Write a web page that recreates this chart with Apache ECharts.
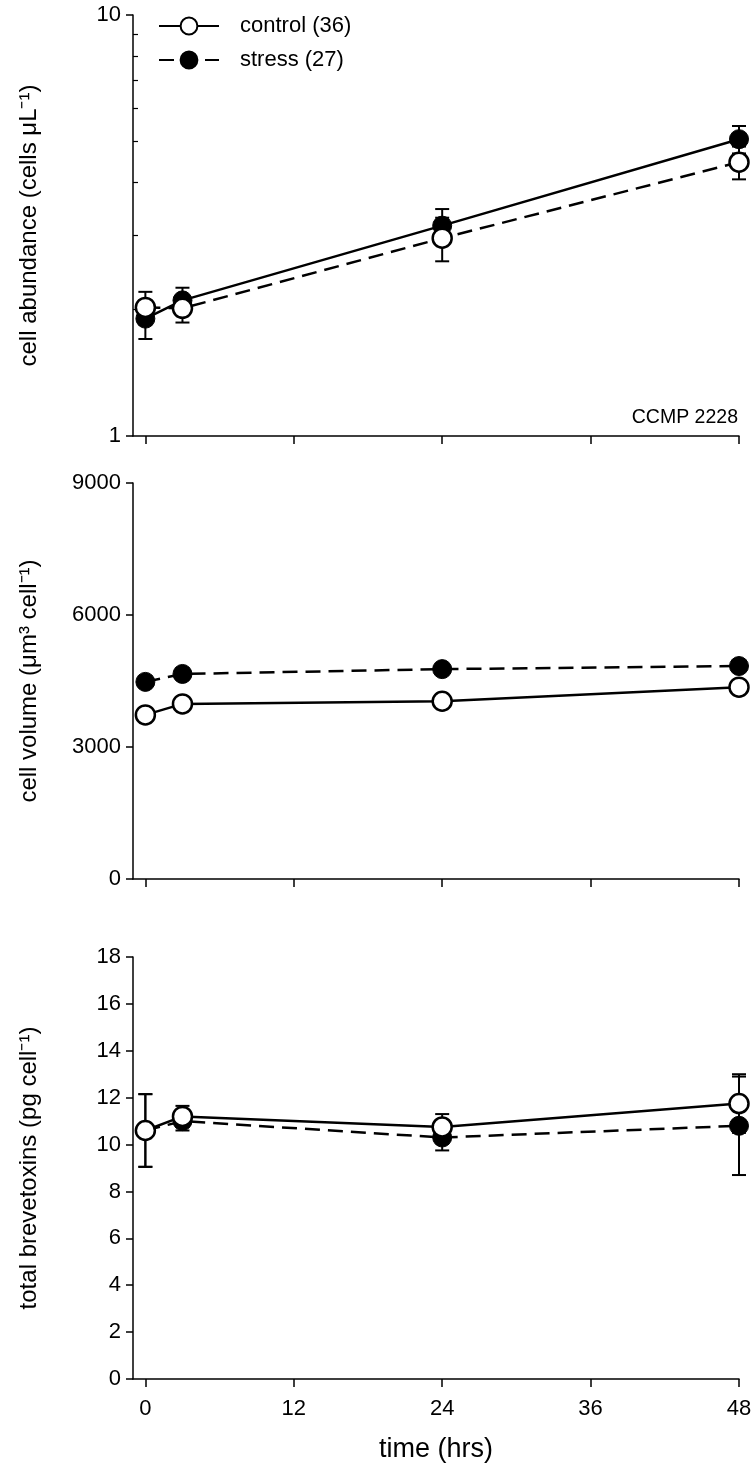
<!DOCTYPE html>
<html>
<head>
<meta charset="utf-8">
<script src="https://cdn.jsdelivr.net/npm/echarts@6/dist/echarts.min.js"></script>
<style>
html,body{margin:0;padding:0;background:#fff;}
#c{width:756px;height:1475px;}
</style>
</head>
<body>
<div id="c"></div>
<script>
// ---- data ----
const time = [0, 3, 24, 48];
const xTicks = [0, 12, 24, 36, 48];
const legendNames = ['control (36)', 'stress (27)'];

// panel 1: cell abundance (cells uL-1), log axis
const abundControl = [2.02, 2.01, 2.95, 4.47];
const abundControlErr = [0.18, 0.15, 0.35, 0.40];
const abundStress = [1.90, 2.10, 3.16, 5.07];
const abundStressErr = [0.20, 0.15, 0.30, 0.38];
const abundMinorTicks = [2, 3, 4, 5, 6, 7, 8, 9];

// panel 2: cell volume (um3 cell-1)
const volControl = [3730, 3980, 4040, 4360];
const volStress = [4480, 4660, 4770, 4840];

// panel 3: total brevetoxins (pg cell-1)
const toxControl = [10.6, 11.2, 10.75, 11.75];
const toxControlErr = [1.55, 0.45, 0.55, 1.25];
const toxStress = [10.6, 11.0, 10.3, 10.8];
const toxStressErr = [1.55, 0.4, 0.55, 2.1];

const strainLabel = 'CCMP 2228';
const xTitle = 'time (hrs)';
const yTitles = ['cell abundance (cells \u03bcL\u207b\u00b9)', 'cell volume (\u03bcm\u00b3 cell\u207b\u00b9)', 'total brevetoxins (pg cell\u207b\u00b9)'];

// ---- build ----
const FONT = '"Liberation Sans", Arial, sans-serif';
const pts = (ys) => time.map((t, i) => [t, ys[i]]);
const errPts = (ys, es) => time.map((t, i) => [t, ys[i] - es[i], ys[i] + es[i]]);

function errRender(params, api) {
  const x = api.value(0), lo = api.value(1), hi = api.value(2);
  const a = api.coord([x, hi]), b = api.coord([x, lo]);
  const w = 7;
  const st = { stroke: '#000', lineWidth: 2 };
  return { type: 'group', children: [
    { type: 'line', shape: { x1: a[0], y1: a[1], x2: b[0], y2: b[1] }, style: st },
    { type: 'line', shape: { x1: a[0] - w, y1: a[1], x2: a[0] + w, y2: a[1] }, style: st },
    { type: 'line', shape: { x1: b[0] - w, y1: b[1], x2: b[0] + w, y2: b[1] }, style: st }
  ]};
}

const grids = [
  { left: 133, width: 606, top: 15, height: 421 },
  { left: 133, width: 606, top: 483, height: 396 },
  { left: 133, width: 606, top: 957, height: 422 }
];

const axisLine = { show: true, onZero: false, lineStyle: { color: '#000', width: 1.5 } };
const labelStyle = { color: '#000', fontSize: 22, fontFamily: FONT };
const plain = (v) => String(v);

const xAxes = grids.map((g, i) => ({
  type: 'value', gridIndex: i, min: -1, max: 48,
  axisLine: axisLine,
  axisTick: { show: true, inside: false, length: 8, lineStyle: { color: '#000', width: 1.5 }, customValues: xTicks },
  axisLabel: Object.assign({ show: i === 2, margin: 19, customValues: xTicks, formatter: plain }, labelStyle),
  splitLine: { show: false },
  name: i === 2 ? xTitle : '',
  nameLocation: 'middle', nameGap: 57,
  nameTextStyle: { color: '#000', fontSize: 27, fontFamily: FONT }
}));

const nameStyle = { color: '#000', fontSize: 24, fontFamily: FONT };
const yAxes = [
  { type: 'log', logBase: 10, gridIndex: 0, min: 1, max: 10,
    axisLine: axisLine,
    axisTick: { show: true, length: 7, lineStyle: { color: '#000', width: 1.5 } },
    axisLabel: Object.assign({ margin: 12, formatter: plain }, labelStyle),
    splitLine: { show: false }, minorTick: { show: false },
    name: yTitles[0], nameLocation: 'middle', nameGap: 92, nameTextStyle: nameStyle },
  // helper axis (log10 space) just for the inside minor ticks of panel 1
  { type: 'value', gridIndex: 0, min: 0, max: 1, position: 'left',
    axisLine: { show: false, onZero: false },
    axisTick: { show: true, inside: true, length: 5, lineStyle: { color: '#000', width: 1.2 }, customValues: abundMinorTicks.map(v => Math.log10(v)) },
    axisLabel: { show: false }, splitLine: { show: false } },
  { type: 'value', gridIndex: 1, min: 0, max: 9000, interval: 3000,
    axisLine: axisLine,
    axisTick: { show: true, length: 7, lineStyle: { color: '#000', width: 1.5 } },
    axisLabel: Object.assign({ margin: 12, formatter: plain }, labelStyle),
    splitLine: { show: false },
    name: yTitles[1], nameLocation: 'middle', nameGap: 92, nameTextStyle: nameStyle },
  { type: 'value', gridIndex: 2, min: 0, max: 18, interval: 2,
    axisLine: axisLine,
    axisTick: { show: true, length: 7, lineStyle: { color: '#000', width: 1.5 } },
    axisLabel: Object.assign({ margin: 12, formatter: plain }, labelStyle),
    splitLine: { show: false },
    name: yTitles[2], nameLocation: 'middle', nameGap: 92, nameTextStyle: nameStyle }
];

const solid = { color: '#000', width: 2.5, type: 'solid' };
const dashed = { color: '#000', width: 2.5, type: [15, 8] };
const openItem = { color: '#fff', borderColor: '#000', borderWidth: 2.5 };
const filledItem = { color: '#000', borderColor: '#000', borderWidth: 1 };

function lineSeries(name, data, xi, yi, ls, item, z) {
  return { type: 'line', name: name, xAxisIndex: xi, yAxisIndex: yi, data: data,
    symbol: 'circle', symbolSize: 19, lineStyle: ls, itemStyle: item, z: z,
    showAllSymbol: true, animation: false, emphasis: { disabled: true } };
}
function errSeries(data, xi, yi) {
  return { type: 'custom', xAxisIndex: xi, yAxisIndex: yi, data: data, renderItem: errRender,
    encode: { x: 0, y: [1, 2] }, z: 1, animation: false, silent: true };
}

const series = [
  // panel 2 first so the legend takes its styles
  lineSeries(legendNames[0], pts(volControl), 1, 2, solid, openItem, 4),
  lineSeries(legendNames[1], pts(volStress), 1, 2, dashed, filledItem, 3),
  // panel 3
  errSeries(errPts(toxStress, toxStressErr), 2, 3),
  errSeries(errPts(toxControl, toxControlErr), 2, 3),
  lineSeries(legendNames[0], pts(toxControl), 2, 3, solid, openItem, 4),
  lineSeries(legendNames[1], pts(toxStress), 2, 3, dashed, filledItem, 3),
  // panel 1 (line styles as drawn in the original: solid through stress, dashed through control)
  errSeries(errPts(abundStress, abundStressErr), 0, 0),
  errSeries(errPts(abundControl, abundControlErr), 0, 0),
  lineSeries(legendNames[0], pts(abundControl), 0, 0, dashed, openItem, 4),
  lineSeries(legendNames[1], pts(abundStress), 0, 0, solid, filledItem, 3)
];

const chart = echarts.init(document.getElementById('c'), null, { renderer: 'canvas' });
chart.setOption({
  backgroundColor: '#fff',
  animation: false,
  grid: grids,
  xAxis: xAxes,
  yAxis: yAxes,
  legend: {
    data: legendNames, orient: 'vertical', left: 153, top: 10,
    itemWidth: 60, itemHeight: 21, itemGap: 12,
    textStyle: { color: '#000', fontSize: 22, fontFamily: FONT, padding: [0, 0, 0, 16] },
    selectedMode: false
  },
  graphic: [{
    type: 'text', right: 18, top: 408,
    style: { text: strainLabel, fill: '#000', fontSize: 19.5, fontFamily: FONT }
  }],
  series: series
});
</script>
</body>
</html>
